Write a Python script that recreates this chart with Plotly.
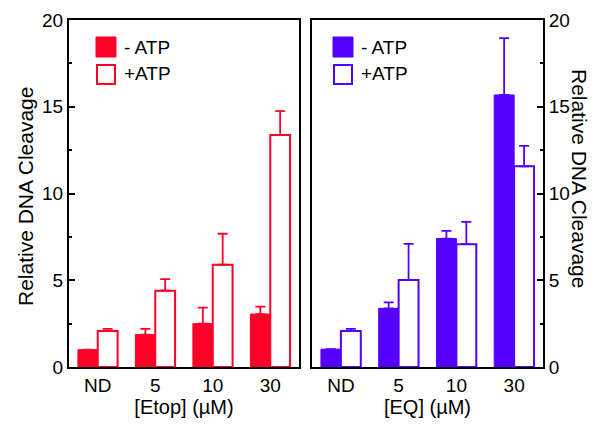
import plotly.graph_objects as go

categories = ["ND", "5", "10", "30"]

etop_minus = [1.0, 1.87, 2.5, 3.05]
etop_minus_top = [1.0, 2.2, 3.42, 3.48]
etop_plus = [2.07, 4.4, 5.9, 13.37]
etop_plus_top = [2.2, 5.07, 7.68, 14.75]

eq_minus = [1.03, 3.38, 7.4, 15.68]
eq_minus_top = [1.03, 3.73, 7.85, 18.95]
eq_plus = [2.07, 5.01, 7.08, 11.57]
eq_plus_top = [2.2, 7.1, 8.36, 12.75]

RED = "rgb(255,0,40)"
PUR = "rgb(85,0,255)"
FONT = "Arial, Liberation Sans, sans-serif"

# page body has an 8px default margin; size the figure to fit the window
OFF = 8
W, H = 598 - OFF, 425 - OFF
X0, X1, Y0, Y1 = 69, 543, 20, 367          # plot area in window pixels
ML, MT = X0 - OFF, Y0 - OFF
MR, MB = W - (X1 - OFF), H - (Y1 - OFF)
PW, PH = X1 - X0, Y1 - Y0


def px(x):
    return (x - X0) / PW


def py(y):
    return (Y1 - y) / PH


def errs(vals, tops):
    return [t - v for v, t in zip(vals, tops)]


fig = go.Figure()


def add_pair(minus, mtop, plus, ptop, color, xa, ya):
    fig.add_trace(go.Bar(
        x=categories, y=minus, xaxis=xa, yaxis=ya,
        marker=dict(color=color, line=dict(color=color, width=1)),
        error_y=dict(type="data", symmetric=False, array=errs(minus, mtop),
                     arrayminus=[0] * len(minus), color=color, thickness=1.8, width=5),
        showlegend=False, offsetgroup="a",
    ))
    fig.add_trace(go.Bar(
        x=categories, y=plus, xaxis=xa, yaxis=ya,
        marker=dict(color="white", line=dict(color=color, width=2)),
        error_y=dict(type="data", symmetric=False, array=errs(plus, ptop),
                     arrayminus=[0] * len(plus), color=color, thickness=1.8, width=5),
        showlegend=False, offsetgroup="b",
    ))


add_pair(etop_minus, etop_minus_top, etop_plus, etop_plus_top, RED, "x", "y")
add_pair(eq_minus, eq_minus_top, eq_plus, eq_plus_top, PUR, "x2", "y2")

tickfont = dict(family=FONT, size=19, color="black")
titlefont = dict(family=FONT, size=20, color="black")
ytitlefont = dict(family=FONT, size=21, color="black")
legfont = dict(family=FONT, size=19, color="black")

xcommon = dict(type="category", showline=True, linecolor="black", linewidth=2,
               mirror=True, ticks="", tickfont=tickfont, range=[-0.5, 3.5],
               showgrid=False, zeroline=False, automargin=False)
ycommon = dict(range=[0, 20], dtick=5, ticks="inside", ticklen=6, tickwidth=2,
               tickcolor="black", showline=True, linecolor="black", linewidth=2,
               mirror=True, tickfont=tickfont, showgrid=False, zeroline=False,
               automargin=False,
               minor=dict(ticks="inside", ticklen=3, tickwidth=1.5, dtick=2.5,
                          tickcolor="black", showgrid=False))

fig.update_layout(
    template="none",
    width=W, height=H,
    margin=dict(l=ML, r=MR, t=MT, b=MB),
    paper_bgcolor="white", plot_bgcolor="white",
    barmode="group", bargap=0.31, bargroupgap=0,
    font=dict(family=FONT, color="black"),
    showlegend=False,
    xaxis=dict(domain=[0, px(299)], anchor="y",
               title=dict(text="[Etop] (µM)", font=titlefont, standoff=4), **xcommon),
    xaxis2=dict(domain=[px(312), 1], anchor="y2",
                title=dict(text="[EQ] (µM)", font=titlefont, standoff=4), **xcommon),
    yaxis=dict(domain=[0, 1], anchor="x", side="left", **ycommon),
    yaxis2=dict(domain=[0, 1], anchor="x2", side="right", **ycommon),
)

shapes = []
annotations = []
for (x0, color) in [(96, RED), (333, PUR)]:
    shapes.append(dict(type="rect", xref="paper", yref="paper",
                       x0=px(x0), x1=px(x0 + 20), y0=py(57), y1=py(37),
                       fillcolor=color, line=dict(color=color, width=1)))
    shapes.append(dict(type="rect", xref="paper", yref="paper",
                       x0=px(x0 + 1), x1=px(x0 + 19), y0=py(84), y1=py(65),
                       fillcolor="white", line=dict(color=color, width=2)))
    annotations.append(dict(text="- ATP", xref="paper", yref="paper",
                            x=px(x0 + 26), y=py(47), xanchor="left", yanchor="middle",
                            showarrow=False, font=legfont))
    annotations.append(dict(text="+ATP", xref="paper", yref="paper",
                            x=px(x0 + 26), y=py(74), xanchor="left", yanchor="middle",
                            showarrow=False, font=legfont))

annotations.append(dict(text="Relative DNA Cleavage", xref="paper", yref="paper",
                        x=px(25), y=py(197), textangle=-90, showarrow=False,
                        xanchor="center", yanchor="middle", font=ytitlefont))
annotations.append(dict(text="Relative DNA Cleavage", xref="paper", yref="paper",
                        x=px(580), y=py(178), textangle=90, showarrow=False,
                        xanchor="center", yanchor="middle", font=ytitlefont))

fig.update_layout(shapes=shapes, annotations=annotations)

fig.write_html("out.html")
